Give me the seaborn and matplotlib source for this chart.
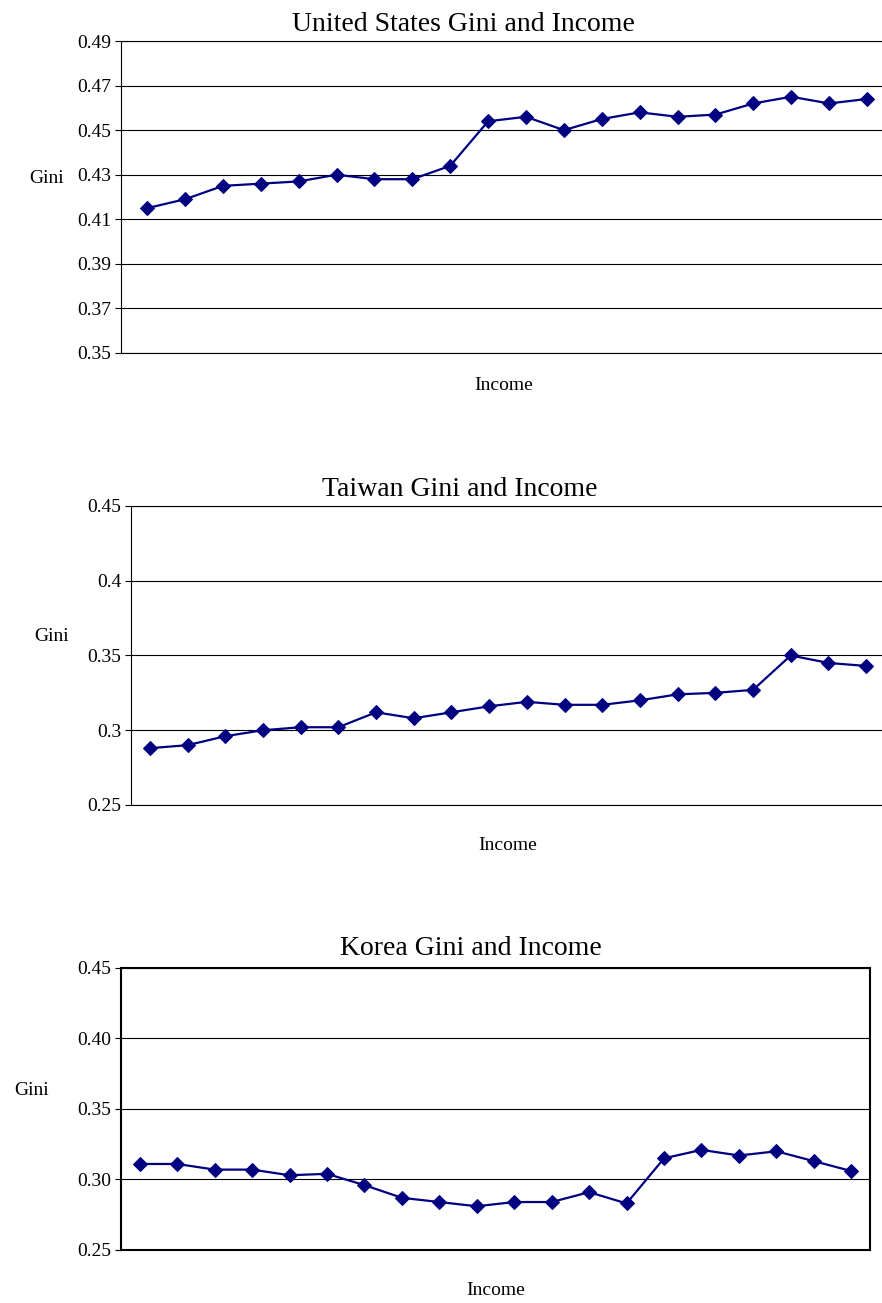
import matplotlib
matplotlib.use("Agg")
import matplotlib.pyplot as plt
import seaborn as sns
import pandas as pd

# Income groups (20 categories, lowest to highest)
income_group = list(range(1, 21))

us_gini = [0.415, 0.419, 0.425, 0.426, 0.427, 0.430, 0.428, 0.428, 0.434, 0.454,
           0.456, 0.450, 0.455, 0.458, 0.456, 0.457, 0.462, 0.465, 0.462, 0.464]
taiwan_gini = [0.288, 0.290, 0.296, 0.300, 0.302, 0.302, 0.312, 0.308, 0.312, 0.316,
               0.319, 0.317, 0.317, 0.320, 0.324, 0.325, 0.327, 0.350, 0.345, 0.343]
korea_gini = [0.311, 0.311, 0.307, 0.307, 0.303, 0.304, 0.296, 0.287, 0.284, 0.281,
              0.284, 0.284, 0.291, 0.283, 0.315, 0.321, 0.317, 0.320, 0.313, 0.306]

us_ticks = [0.35, 0.37, 0.39, 0.41, 0.43, 0.45, 0.47, 0.49]
us_ticklabels = ["0.35", "0.37", "0.39", "0.41", "0.43", "0.45", "0.47", "0.49"]
taiwan_ticks = [0.25, 0.30, 0.35, 0.40, 0.45]
taiwan_ticklabels = ["0.25", "0.3", "0.35", "0.4", "0.45"]
korea_ticks = [0.25, 0.30, 0.35, 0.40, 0.45]
korea_ticklabels = ["0.25", "0.30", "0.35", "0.40", "0.45"]

NAVY = "#000080"

sns.set_theme(style="white")
plt.rcParams["font.family"] = ["Liberation Serif", "DejaVu Serif"]
plt.rcParams["text.color"] = "black"
plt.rcParams["axes.labelcolor"] = "black"
plt.rcParams["ytick.color"] = "black"
plt.rcParams["xtick.color"] = "black"

fig = plt.figure(figsize=(8.82, 13.03), dpi=100)

panels = [
    # title, values, ticks, ticklabels, axes rect, xlim, title xy, ylabel xy, xlabel y, boxed
    ("United States Gini and Income", us_gini, us_ticks, us_ticklabels,
     [0.1372, 0.7291, 0.8673, 0.2394], (0.31, 20.5), (0.447, 1.052), (-0.097, 0.558), -0.103, False),
    ("Taiwan Gini and Income", taiwan_gini, taiwan_ticks, taiwan_ticklabels,
     [0.1485, 0.3822, 0.8549, 0.2295], (0.5, 20.5), (0.436, 1.054), (-0.105, 0.562), -0.134, False),
    ("Korea Gini and Income", korea_gini, korea_ticks, korea_ticklabels,
     [0.1372, 0.0407, 0.8492, 0.2164], (0.5, 20.5), (0.467, 1.068), (-0.119, 0.567), -0.142, True),
]

for title, values, ticks, ticklabels, rect, xlim, title_xy, ylab_xy, xlab_y, boxed in panels:
    ax = fig.add_axes(rect)
    df = pd.DataFrame({"Income": income_group, "Gini": values})
    sns.lineplot(data=df, x="Income", y="Gini", ax=ax, color=NAVY, linewidth=1.6,
                 marker="D", markersize=7, markeredgecolor=NAVY, markerfacecolor=NAVY)

    ax.set_xlim(*xlim)
    ax.set_ylim(ticks[0], ticks[-1])
    ax.set_yticks(ticks)
    ax.set_yticklabels(ticklabels, fontsize=14, color="black")
    ax.set_xticks([])

    ax.yaxis.grid(True, color="black", linewidth=0.8)
    ax.set_axisbelow(True)
    ax.tick_params(axis="y", which="major", left=True, direction="out",
                   length=4, width=0.8, color="black", pad=3)

    for name, spine in ax.spines.items():
        spine.set_color("black")
        spine.set_linewidth(1.5 if boxed else 0.8)
    if not boxed:
        ax.spines["right"].set_visible(False)

    ax.set_title(title, fontsize=20, x=title_xy[0], y=title_xy[1], va="center",
                 pad=0, color="black")
    ax.set_ylabel("Gini", fontsize=14, rotation=0, ha="center", va="center", color="black")
    ax.yaxis.set_label_coords(*ylab_xy)
    ax.set_xlabel("Income", fontsize=14, va="center", color="black")
    ax.xaxis.set_label_coords(0.5, xlab_y)

fig.savefig("out.png", dpi=100)
